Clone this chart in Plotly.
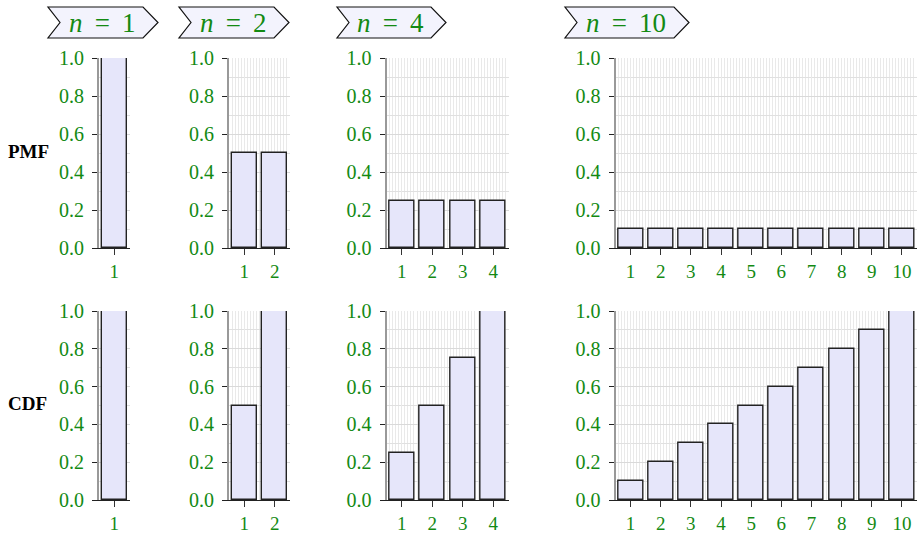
import plotly.graph_objects as go

W, H = 917, 535

# ---------------- data ----------------
n_values = [1, 2, 4, 10]
categories = {
    1: [1],
    2: [1, 2],
    4: [1, 2, 3, 4],
    10: [1, 2, 3, 4, 5, 6, 7, 8, 9, 10],
}
pmf = {
    1: [1.0],
    2: [0.5, 0.5],
    4: [0.25, 0.25, 0.25, 0.25],
    10: [0.1, 0.1, 0.1, 0.1, 0.1, 0.1, 0.1, 0.1, 0.1, 0.1],
}
cdf = {
    1: [1.0],
    2: [0.5, 1.0],
    4: [0.25, 0.5, 0.75, 1.0],
    10: [0.1, 0.2, 0.3, 0.4, 0.5, 0.6, 0.7, 0.8, 0.9, 1.0],
}
row_labels = ["PMF", "CDF"]
y_ticks = [0.0, 0.2, 0.4, 0.6, 0.8, 1.0]
y_ticktext = ["0.0", "0.2", "0.4", "0.6", "0.8", "1.0"]

# ---------------- layout helpers ----------------
GREEN = "#138a13"
FONT = "Liberation Serif"
BAR_FILL = "#E6E6FA"
BAR_LINE = "#222222"

def px(x):
    return x / W

def py(y):
    return 1 - y / H

# column pixel spans of the plot areas
col_px = [(99, 129.5), (229, 290), (386.5, 508.5), (615.5, 917)]
# row pixel spans (top, bottom)
row_px = [(58, 248), (311, 500)]
# title box spans
box_px = [(48, 158), (179, 289), (337, 446), (565, 689)]

fig = go.Figure()

idx = 0
for r, data in enumerate([pmf, cdf]):
    for c, n in enumerate(n_values):
        idx += 1
        xa = "x" if idx == 1 else f"x{idx}"
        ya = "y" if idx == 1 else f"y{idx}"
        fig.add_trace(go.Bar(
            x=categories[n], y=data[n], xaxis=xa, yaxis=ya,
            width=0.83, cliponaxis=False,
            marker=dict(color=BAR_FILL, line=dict(color=BAR_LINE, width=1.4)),
            showlegend=False, hoverinfo="x+y",
        ))
        x0, x1 = col_px[c]
        y0, y1 = row_px[r]
        xkey = "xaxis" if idx == 1 else f"xaxis{idx}"
        ykey = "yaxis" if idx == 1 else f"yaxis{idx}"
        fig.layout[xkey] = dict(
            domain=[px(x0), min(px(x1), 1.0)],
            anchor=ya,
            automargin=False,
            range=[0.5, n + 0.5],
            tickmode="array",
            tickvals=categories[n],
            ticktext=[str(v) for v in categories[n]],
            ticks="outside", ticklen=6, tickwidth=1.3, tickcolor="#333",
            ticklabelstandoff=0,
            tickfont=dict(family=FONT, size=19, color=GREEN),
            showline=True, linecolor="#222", linewidth=1.3,
            showgrid=True, gridcolor="#e9e9e9", gridwidth=1,
            minor=dict(tick0=0.5, dtick=0.1, showgrid=True,
                       gridcolor="#e9e9e9", gridwidth=1, ticks=""),
            zeroline=False, fixedrange=True,
        )
        fig.layout[ykey] = dict(
            domain=[py(y1), py(y0)],
            anchor=xa,
            automargin=False,
            range=[0, 1],
            tickmode="array",
            tickvals=y_ticks,
            ticktext=y_ticktext,
            ticks="outside", ticklen=5, tickwidth=1.3, tickcolor="#222",
            ticklabelstandoff=4,
            tickfont=dict(family=FONT, size=20, color=GREEN),
            showline=True, linecolor="#999", linewidth=2,
            showgrid=True, gridcolor="#d9d9d9", gridwidth=1,
            minor=dict(dtick=0.1, showgrid=True, gridcolor="#e0e0e0",
                       gridwidth=1, ticks=""),
            zeroline=False, fixedrange=True,
        )

shapes = []
annotations = []
for (L, R), n in zip(box_px, n_values):
    top, bot = 7, 38
    mid = (top + bot) / 2
    tip = 15
    notch = 12
    path = (f"M {px(L)},{py(top)} L {px(R - tip)},{py(top)} "
            f"L {px(R)},{py(mid)} L {px(R - tip)},{py(bot)} "
            f"L {px(L)},{py(bot)} L {px(L + notch)},{py(mid)} Z")
    shapes.append(dict(type="path", xref="paper", yref="paper", path=path,
                       fillcolor="#f3f3fd", line=dict(color="#111", width=1.2),
                       layer="above"))
    annotations.append(dict(
        xref="paper", yref="paper", x=px((L + R) / 2 - 1), y=py(mid + 1),
        text=f"<i>n</i> \u2009= \u2009{n}", showarrow=False,
        xanchor="center", yanchor="middle",
        font=dict(family=FONT, size=27, color=GREEN),
    ))

for label, ymid in zip(row_labels, [151, 403]):
    annotations.append(dict(
        xref="paper", yref="paper", x=px(6), y=py(ymid), xanchor="left",
        yanchor="middle", text=f"<b>{label}</b>", showarrow=False,
        font=dict(family=FONT, size=19, color="black"),
    ))

fig.update_layout(
    template="none",
    width=W, height=H,
    margin=dict(l=0, r=0, t=0, b=0, autoexpand=False),
    paper_bgcolor="white", plot_bgcolor="white",
    shapes=shapes, annotations=annotations,
    bargap=0,
)

fig.write_html(
    "out.html",
    config={"displayModeBar": False},
    post_script="document.body.style.margin='0';document.body.style.overflow='hidden';",
)
